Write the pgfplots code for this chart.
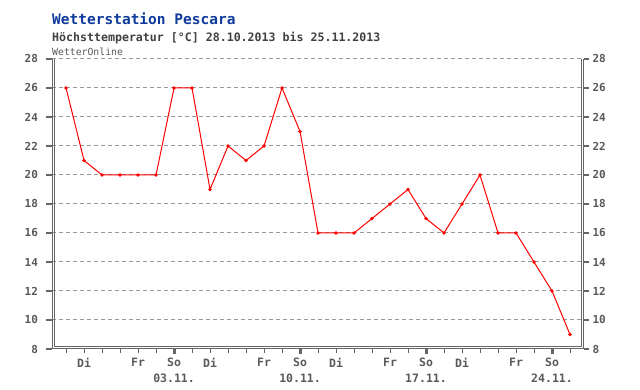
\documentclass[border=0pt]{standalone}
\usepackage{fontspec}
\setmainfont{DejaVu Sans Mono}
\usepackage{pgfplots}
\pgfplotsset{compat=1.18}
\definecolor{framec}{HTML}{666666}
\definecolor{gridc}{HTML}{999999}
\definecolor{labc}{HTML}{595959}
\definecolor{titleblue}{HTML}{0D3A9B}
\definecolor{subc}{HTML}{404040}
\begin{document}
\begin{tikzpicture}
\useasboundingbox (0,0) rectangle (640pt,390pt);
\begin{axis}[name=main, at={(52pt,41pt)}, anchor=south west, scale only axis,
  width=531.5pt, height=290pt,
  xmin=-0.78, xmax=28.75, ymin=8, ymax=28,
  ytick={8,10,...,28},
  axis line style={draw=none},
  ymajorgrids, grid style={gridc, dash pattern=on 4pt off 3pt, line width=1pt},
  tick align=outside,
  ytick pos=left, yticklabel pos=left,
  xtick pos=left,
  xtick={6,13,20,27},
  xticklabels={So\\03.11., So\\10.11., So\\17.11., So\\24.11.},
  minor xtick={0,...,28},
  extra x ticks={1,4,8,11,15,18,22,25},
  extra x tick labels={Di,Fr,Di,Fr,Di,Fr,Di,Fr},
  extra x tick style={tick style={draw=none}},
  major tick length=5.5pt, minor tick length=4pt,
  tick style={framec},
  every major y tick/.append style={line width=2pt},
  every major x tick/.append style={line width=3pt},
  every minor x tick/.append style={line width=1pt},
  /pgf/number format/assume math mode=true,
  tick label style={labc, font=\fontsize{11}{16}\selectfont\bfseries},
  xticklabel style={align=center, font=\fontsize{11.5}{16}\selectfont\bfseries},
  yticklabel style={xshift=-5pt},
]
\addplot[red, line width=1pt, mark=*, mark size=1.2pt] coordinates {
(0,26) (1,21) (2,20) (3,20) (4,20) (5,20) (6,26) (7,26) (8,19) (9,22)
(10,21) (11,22) (12,26) (13,23) (14,16) (15,16) (16,16) (17,17) (18,18) (19,19)
(20,17) (21,16) (22,18) (23,20) (24,16) (25,16) (26,14) (27,12) (28,9)
};
\end{axis}
\begin{axis}[at={(52pt,41pt)}, anchor=south west, scale only axis,
  width=531.5pt, height=290pt,
  xmin=-0.78, xmax=28.75, ymin=8, ymax=28,
  ytick={8,10,...,28}, xtick=\empty,
  axis line style={draw=none},
  tick align=outside,
  ytick pos=right, yticklabel pos=right,
  major tick length=5.5pt,
  tick style={framec},
  every major y tick/.append style={line width=2pt},
  /pgf/number format/assume math mode=true,
  tick label style={labc, font=\fontsize{11}{16}\selectfont\bfseries},
]
\end{axis}
\draw[framec, line width=1pt] (main.north west) -- (main.south west) -- (main.south east) -- (main.north east);
\draw[framec, line width=1pt] ([xshift=2pt]main.north west) -- ([shift={(2pt,2pt)}]main.south west) -- ([shift={(-2pt,2pt)}]main.south east) -- ([xshift=-2pt]main.north east);
\node[anchor=base west, inner sep=0, text=titleblue, font=\fontsize{14.5}{17}\selectfont\bfseries] at (52pt,365pt) {Wetterstation Pescara};
\node[anchor=base west, inner sep=0, text=subc, font=\fontsize{11.6}{14}\selectfont\bfseries] at (52pt,348pt) {Höchsttemperatur [°C] 28.10.2013 bis 25.11.2013};
\node[anchor=base west, inner sep=0, text=labc, font=\fontsize{9.8}{11}\selectfont] at (52pt,334pt) {WetterOnline};
\end{tikzpicture}
\end{document}
